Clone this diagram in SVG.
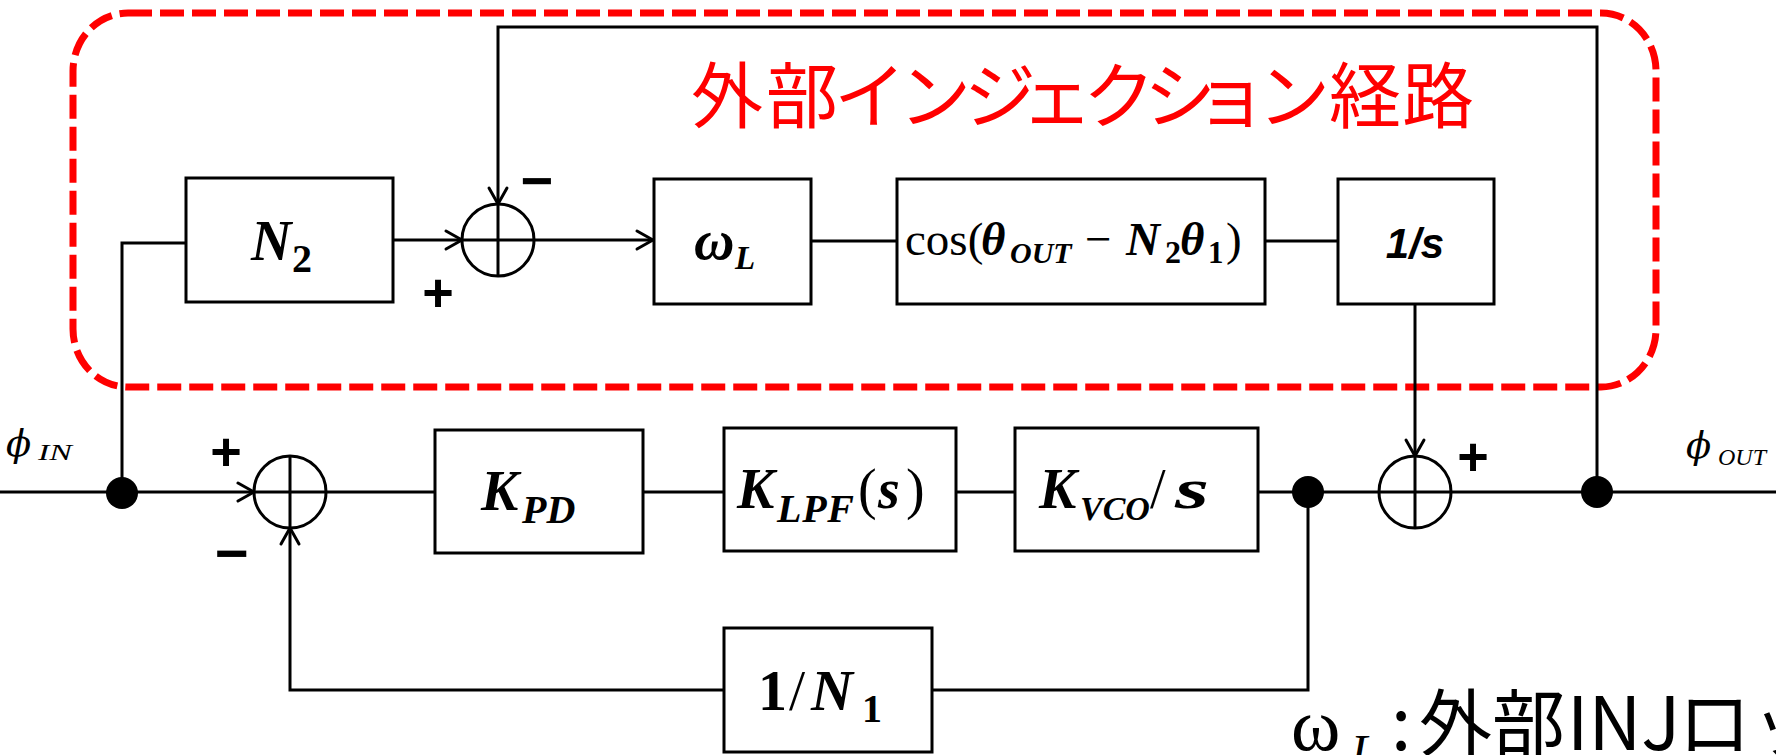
<svg xmlns="http://www.w3.org/2000/svg" width="1776" height="755" viewBox="0 0 1776 755">
<style>
.box{fill:#fff;stroke:#000;stroke-width:3}
.w{fill:none;stroke:#000;stroke-width:3}
.sumc{fill:none;stroke:#000;stroke-width:3}
.dot{fill:#000}
.m{font-family:"Liberation Serif","DejaVu Serif",serif;fill:#000}
.ph{font-family:"DejaVu Serif","Liberation Serif",serif;font-style:italic}
.bi{font-weight:bold;font-style:italic}
.b{font-weight:bold}
.i{font-style:italic}
.sg{font-family:"Liberation Sans",Arial,sans-serif;font-weight:bold;text-anchor:middle;fill:#000}
.jp{font-family:"Noto Sans CJK JP","Noto Sans CJK SC",sans-serif}
</style>
<defs>
<marker id="arr" markerUnits="userSpaceOnUse" markerWidth="24" markerHeight="24" viewBox="-20 -12 24 24" refX="0" refY="0" orient="auto">
<path d="M-16,-9 L0,0 L-16,9" fill="none" stroke="#000" stroke-width="3" stroke-linejoin="round" stroke-linecap="round"/>
</marker>
</defs>
<rect width="1776" height="755" fill="#fff"/>

<g id="injection-region">
<rect x="73" y="13" width="1583" height="374" rx="55" ry="58" fill="none" stroke="#f00" stroke-width="7" stroke-dasharray="24 8"/>
<text class="jp" fill="#f00" font-size="72" text-anchor="middle" x="727 802 870 935 1000 1057 1119 1180 1231 1294 1365 1438" y="122">外部インジェクション経路</text>
</g>

<g id="connectors">
<path class="w" d="M0 492 H254" marker-end="url(#arr)"/>
<path class="w" d="M122 492 V243 H186"/>
<path class="w" d="M393 240 H462" marker-end="url(#arr)"/>
<path class="w" d="M1597 492 V27 H498 V204" marker-end="url(#arr)"/>
<path class="w" d="M534 240 H653" marker-end="url(#arr)"/>
<path class="w" d="M811 241 H897"/>
<path class="w" d="M1265 241 H1338"/>
<path class="w" d="M1415 304 V456" marker-end="url(#arr)"/>
<path class="w" d="M326 492 H435"/>
<path class="w" d="M643 492 H724"/>
<path class="w" d="M956 492 H1015"/>
<path class="w" d="M1258 492 H1379"/>
<path class="w" d="M1451 492 H1776"/>
<path class="w" d="M1308 492 V690 H932"/>
<path class="w" d="M724 690 H290 V528" marker-end="url(#arr)"/>
</g>

<g id="node-in">
<circle class="dot" cx="122" cy="493" r="16"/>
<text class="m" y="456"><tspan class="ph" x="6" font-size="37">ϕ</tspan><tspan class="i" x="38" y="460" font-size="23" textLength="34" lengthAdjust="spacingAndGlyphs">IN</tspan></text>
</g>

<g id="node-N2">
<rect class="box" x="186" y="178" width="207" height="124"/>
<text class="m" y="260"><tspan class="bi" x="251" font-size="56">N</tspan><tspan class="b" x="292" y="272" font-size="40">2</tspan></text>
</g>

<g id="sum1">
<circle class="sumc" cx="498" cy="240" r="36"/>
<path class="w" d="M462 240 H534 M498 204 V276"/>
<text class="sg" x="537" y="200" font-size="56">−</text>
<text class="sg" x="438" y="311" font-size="54">+</text>
</g>

<g id="node-omegaL">
<rect class="box" x="654" y="179" width="157" height="125"/>
<text class="m bi" y="259"><tspan x="694" font-size="56">ω</tspan><tspan x="735" y="269" font-size="33">L</tspan></text>
</g>

<g id="node-cos">
<rect class="box" x="897" y="179" width="368" height="125"/>
<text class="m" y="255" font-size="47"><tspan x="905">cos(</tspan><tspan class="bi" x="981">θ</tspan><tspan class="bi" x="1010" y="263" font-size="30">OUT</tspan><tspan x="1085" y="255">−</tspan><tspan class="bi" x="1126">N</tspan><tspan class="b" x="1165" y="263" font-size="32">2</tspan><tspan class="bi" x="1180" y="255">θ</tspan><tspan class="b" x="1208" y="263" font-size="31">1</tspan><tspan x="1226" y="255">)</tspan></text>
</g>

<g id="node-integrator">
<rect class="box" x="1338" y="179" width="156" height="125"/>
<text x="1415" y="258" text-anchor="middle" font-family="'Liberation Sans',Arial,sans-serif" font-weight="bold" font-style="italic" font-size="42">1/s</text>
</g>

<g id="sum3">
<circle class="sumc" cx="290" cy="492" r="36"/>
<path class="w" d="M254 492 H326 M290 456 V528"/>
<text class="sg" x="226" y="470" font-size="54">+</text>
<text class="sg" x="232" y="573" font-size="58">−</text>
</g>

<g id="node-KPD">
<rect class="box" x="435" y="430" width="208" height="123"/>
<text class="m bi" y="510"><tspan x="481" font-size="56">K</tspan><tspan x="522" y="523" font-size="40">PD</tspan></text>
</g>

<g id="node-KLPF">
<rect class="box" x="724" y="428" width="232" height="123"/>
<text class="m" y="508" font-size="56"><tspan class="bi" x="737">K</tspan><tspan class="bi" x="777" y="522" font-size="40" textLength="77">LPF</tspan><tspan x="858" y="508">(</tspan><tspan class="bi" x="878">s</tspan><tspan x="906">)</tspan></text>
</g>

<g id="node-KVCO">
<rect class="box" x="1015" y="428" width="243" height="123"/>
<text class="m" y="508" font-size="56"><tspan class="bi" x="1039">K</tspan><tspan class="bi" x="1080" y="520" font-size="34">VCO</tspan><tspan x="1150" y="508">/</tspan><tspan class="bi" x="1175" textLength="34" lengthAdjust="spacingAndGlyphs">s</tspan></text>
</g>

<g id="node-N1">
<rect class="box" x="724" y="628" width="208" height="124"/>
<text class="m" y="710" font-size="58"><tspan class="b" x="758">1</tspan><tspan x="789">/</tspan><tspan class="bi" x="811">N</tspan><tspan class="b" x="862" y="722" font-size="40">1</tspan></text>
</g>

<g id="sum2">
<circle class="sumc" cx="1415" cy="492" r="36"/>
<path class="w" d="M1379 492 H1451 M1415 456 V528"/>
<text class="sg" x="1473" y="475" font-size="54">+</text>
</g>

<g id="node-vco-out">
<circle class="dot" cx="1308" cy="492" r="16"/>
</g>

<g id="node-out">
<circle class="dot" cx="1597" cy="492" r="16"/>
<text class="m" y="458"><tspan class="ph" x="1686" font-size="37">ϕ</tspan><tspan class="i" x="1718" y="465" font-size="24">OUT</tspan></text>
</g>

<g id="legend">
<text class="m" x="1291" y="750" font-size="75">ω</text>
<text class="m i" x="1351" y="768" font-size="48">L</text>
<text class="jp" y="750" font-size="73" fill="#000"><tspan x="1391">:</tspan><tspan x="1419">外部</tspan><tspan x="1567">INJ</tspan><tspan x="1678">ロッ</tspan></text>
</g>
</svg>
